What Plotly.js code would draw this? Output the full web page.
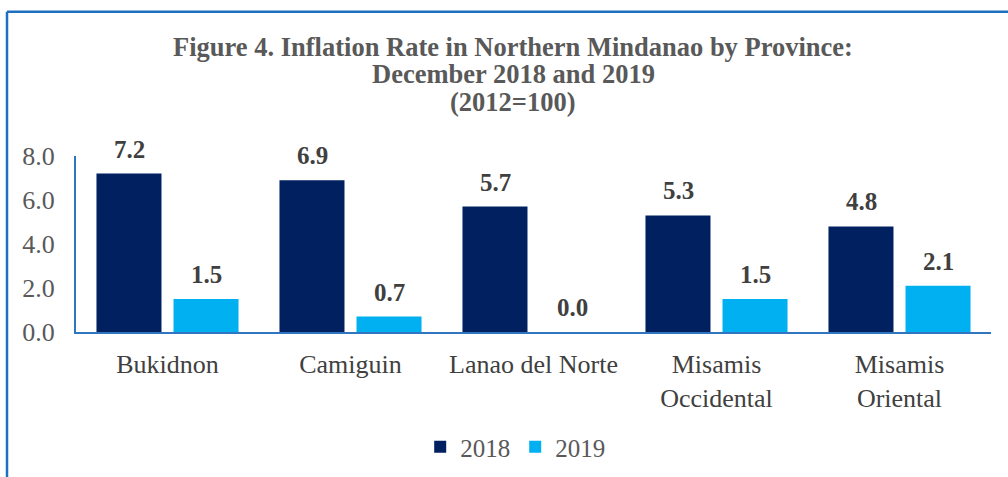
<!DOCTYPE html>
<html><head><meta charset="utf-8">
<script src="https://cdn.plot.ly/plotly-3.0.1.min.js"></script>
<style>html,body{margin:0;padding:0;background:#fff;}#chart{width:1008px;height:477px;}</style>
</head><body><div id="chart"></div>
<script>
const categories = ["Bukidnon", "Camiguin", "Lanao del Norte", "Misamis<br>Occidental", "Misamis<br>Oriental"];
const values2018 = [7.2, 6.9, 5.7, 5.3, 4.8];
const values2019 = [1.5, 0.7, 0.0, 1.5, 2.1];
const yTickVals = [0, 2, 4, 6, 8];
const yTickText = ["0.0", "2.0", "4.0", "6.0", "8.0"];
const titleLines = ["Figure 4. Inflation Rate in Northern Mindanao by Province:", "December 2018 and 2019", "(2012=100)"];

const serif = "Liberation Serif, Times New Roman, serif";
const traces = [
  {type:'bar', name:'2018', x:categories, y:values2018, marker:{color:'#002060'}},
  {type:'bar', name:'2019', x:categories, y:values2019, marker:{color:'#00b0f0'}}
];
const annotations = [];
categories.forEach((c,i)=>{
  annotations.push({x:c, y:values2018[i], text:'<b>'+values2018[i].toFixed(1)+'</b>', showarrow:false, xshift:-38.5, yshift:9, yanchor:'bottom', font:{family:serif,size:25,color:'#404040'}});
  annotations.push({x:c, y:values2019[i], text:'<b>'+values2019[i].toFixed(1)+'</b>', showarrow:false, xshift:38.5, yshift:9, yanchor:'bottom', font:{family:serif,size:25,color:'#404040'}});
});
const titleY = [47, 74, 102];
titleLines.forEach((t,i)=>{
  annotations.push({xref:'paper', yref:'paper', x:(513-76)/915, y:(332-titleY[i])/176, text:'<b>'+t+'</b>', showarrow:false, xanchor:'center', yanchor:'middle', font:{family:serif,size:26.5,color:'#595959'}});
});
const layout = {
  width:1008, height:477,
  margin:{l:76, r:17, t:156, b:145, autoexpand:false},
  paper_bgcolor:'#fff', plot_bgcolor:'#fff',
  barmode:'group', bargap:0.158, bargroupgap:0.156,
  xaxis:{automargin:false, showline:true, linecolor:'#2f75c0', linewidth:2, ticks:'', tickfont:{family:serif,size:26,color:'#404040'}, showgrid:false, zeroline:false, ticklabelstandoff:8},
  yaxis:{automargin:false, range:[0,8], tickvals:yTickVals, ticktext:yTickText, showline:true, linecolor:'#2f75c0', linewidth:2, showgrid:false, zeroline:false, ticks:'', tickfont:{family:serif,size:26,color:'#595959'}, ticklabelstandoff:14},
  legend:{orientation:'h', x:0.48, xanchor:'center', y:1-447/477, yref:'container', yanchor:'middle', font:{family:serif,size:25,color:'#595959'}, itemwidth:30, traceorder:'normal'},
  showlegend:true,
  annotations: annotations,
  shapes:[
    {type:'line', xref:'paper', yref:'paper', x0:-0.0754, x1:1.02, y0:1.82, y1:1.82, line:{color:'#1f6fc0', width:2.5}},
    {type:'line', xref:'paper', yref:'paper', x0:-0.0754, x1:-0.0754, y0:1.82, y1:-0.85, line:{color:'#1f6fc0', width:2.5}}
  ]
};
Plotly.newPlot('chart', traces, layout, {displayModeBar:false, staticPlot:true});
</script></body></html>
